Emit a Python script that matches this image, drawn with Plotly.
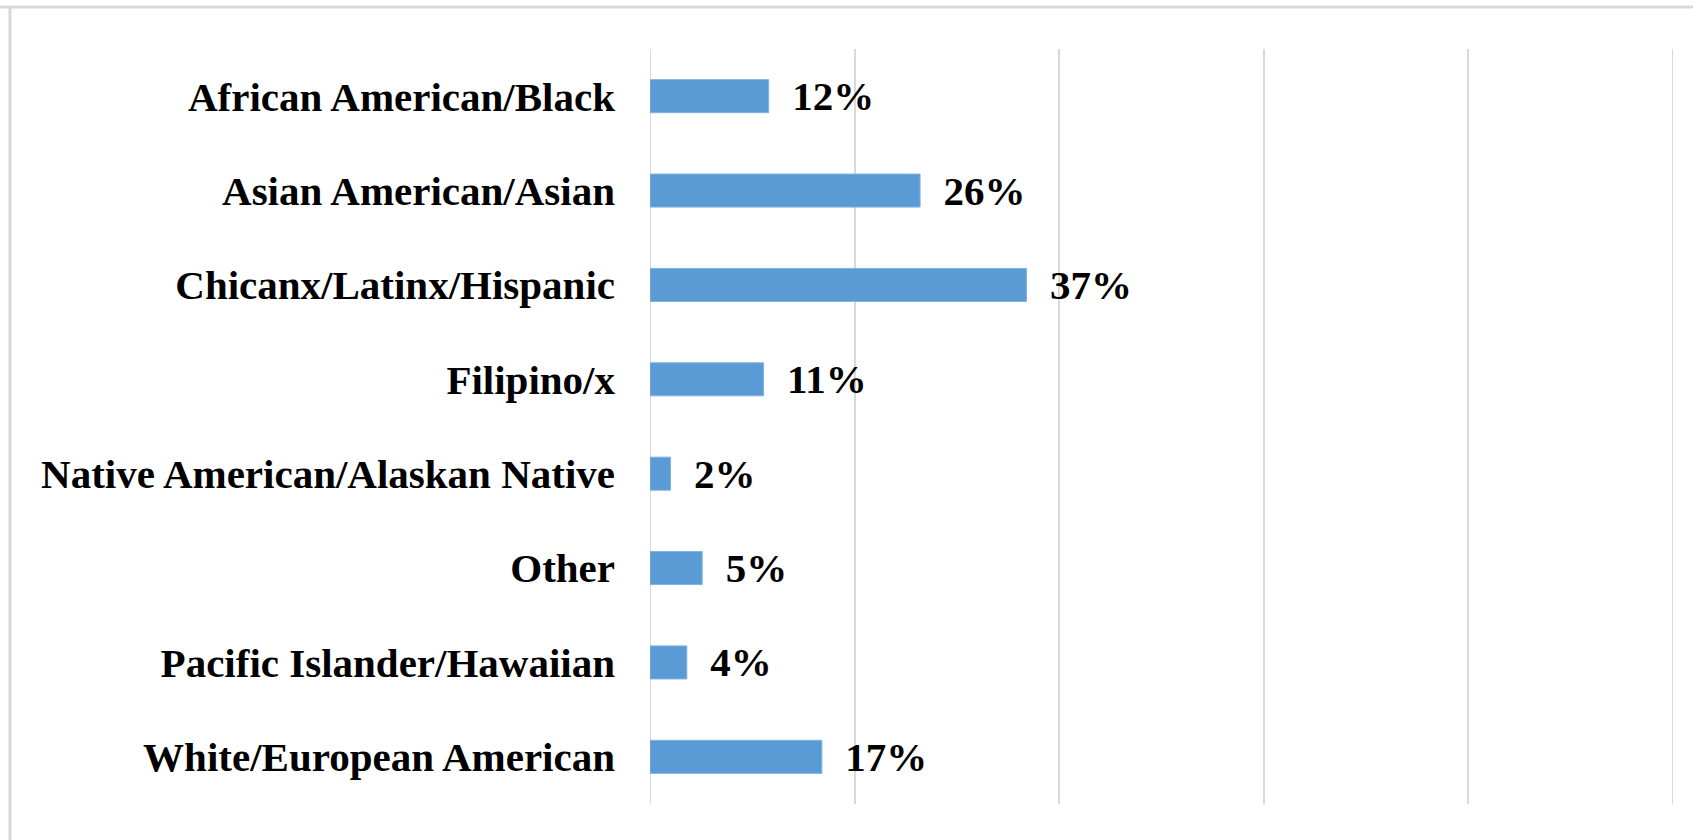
import plotly.graph_objects as go

# survey shares (percent); labels round them
groups = [
    "African American/Black",
    "Asian American/Asian",
    "Chicanx/Latinx/Hispanic",
    "Filipino/x",
    "Native American/Alaskan Native",
    "Other",
    "Pacific Islander/Hawaiian",
    "White/European American",
]
shares = [11.6, 26.4, 36.8, 11.1, 2.0, 5.1, 3.6, 16.8]
share_labels = ["12%", "26%", "37%", "11%", "2%", "5%", "4%", "17%"]

BLUE = "#5b9bd5"
GRID = "#d9d9d9"
FONT = "Liberation Serif"

fig = go.Figure()
fig.add_trace(go.Bar(
    x=shares,
    y=groups,
    orientation="h",
    marker=dict(color=BLUE, line=dict(color="#7fb2e0", width=1)),
    text=["  " + s for s in share_labels],
    textposition="outside",
    textfont=dict(family=FONT, size=41, color="#000000", weight="bold"),
    constraintext="none",
    cliponaxis=False,
    hoverinfo="skip",
))

fig.update_layout(
    width=1693,
    height=840,
    paper_bgcolor="white",
    plot_bgcolor="white",
    margin=dict(l=650, r=20, t=49, b=36),
    bargap=0.65,
    showlegend=False,
    font=dict(family=FONT, color="#000000"),
    xaxis=dict(
        range=[0, 100],
        tick0=0,
        dtick=20,
        showgrid=True,
        gridcolor=GRID,
        gridwidth=2,
        showticklabels=False,
        zeroline=False,
        showline=False,
        fixedrange=True,
    ),
    yaxis=dict(
        categoryorder="array",
        categoryarray=groups[::-1],
        tickfont=dict(family=FONT, size=41, color="#000000", weight="bold"),
        ticklabelstandoff=34,
        showgrid=False,
        zeroline=False,
        showline=False,
        fixedrange=True,
    ),
)

# plotly skips the gridlines sitting on the range ends, so draw 0% and 100%
for edge in (0, 100):
    fig.add_shape(type="line", xref="x", yref="paper", x0=edge, x1=edge,
                  y0=0, y1=1, line=dict(color=GRID, width=2), layer="below")

# chart frame: only the top and left edges are visible in the crop
fig.add_shape(type="line", xref="paper", yref="paper",
              x0=-650 / 1023, x1=1.05, y0=1 + 42 / 755, y1=1 + 42 / 755,
              line=dict(color=GRID, width=3))
fig.add_shape(type="line", xref="paper", yref="paper",
              x0=-640 / 1023, x1=-640 / 1023, y0=-0.1, y1=1 + 42 / 755,
              line=dict(color=GRID, width=3))

# drop the browser's default body margin so the figure sits at 0,0
fig.write_html("out.html", config={"displayModeBar": False},
               post_script="document.body.style.margin='0';")
